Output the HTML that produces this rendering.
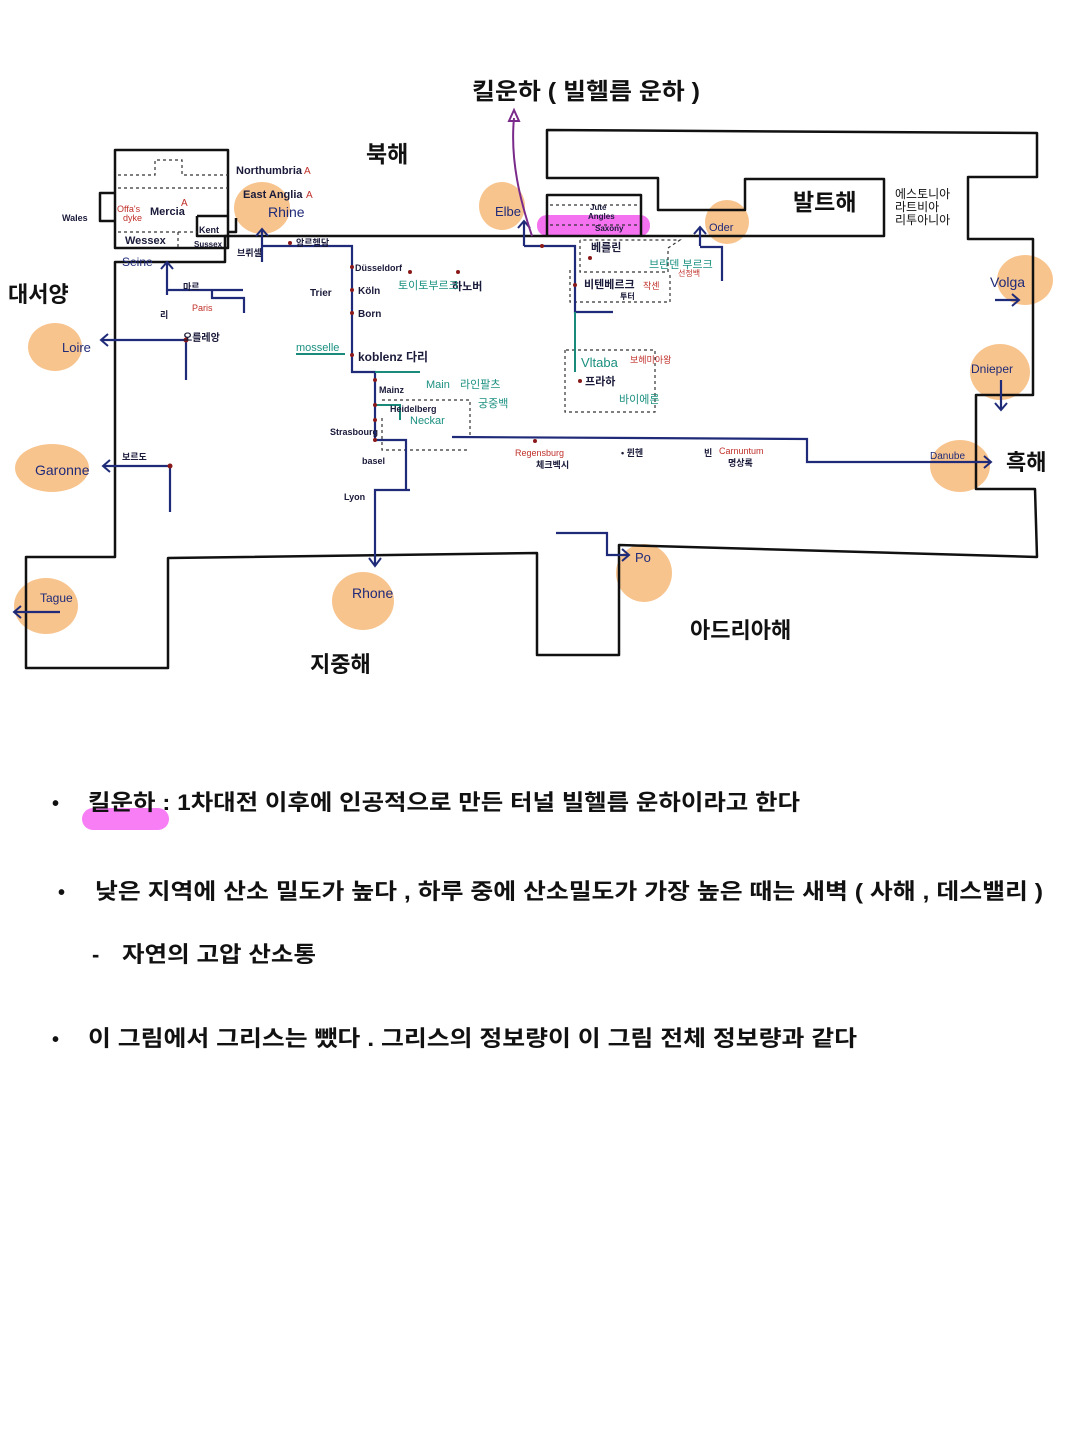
<!DOCTYPE html>
<html><head><meta charset="utf-8"><style>
html,body{margin:0;padding:0;background:#fff;}
svg{display:block;}
text{font-family:"Liberation Sans","Noto Sans CJK KR",sans-serif;}
</style></head><body>
<svg width="1080" height="1440" viewBox="0 0 1080 1440" xmlns="http://www.w3.org/2000/svg">
<g fill="#f8c48e">
<ellipse cx="262" cy="208" rx="28" ry="26"/>
<ellipse cx="502" cy="206" rx="23" ry="24"/>
<ellipse cx="727" cy="222" rx="22" ry="22"/>
<ellipse cx="1025" cy="280" rx="28" ry="25"/>
<ellipse cx="1000" cy="372" rx="30" ry="28"/>
<ellipse cx="960" cy="466" rx="30" ry="26"/>
<ellipse cx="55" cy="347" rx="27" ry="24"/>
<ellipse cx="52" cy="468" rx="37" ry="24"/>
<ellipse cx="46" cy="606" rx="32" ry="28"/>
<ellipse cx="363" cy="601" rx="31" ry="29"/>
<ellipse cx="644" cy="573" rx="28" ry="29"/>
</g>
<rect x="537" y="215" width="113" height="21" rx="10" fill="#f472f0"/>
<rect x="82" y="808" width="87" height="22" rx="11" fill="#f77ef5"/>
<g fill="none" stroke="#111" stroke-width="2.5" stroke-linejoin="round">
<path d="M225,236 L225,262 L115,262 L115,557 L26,557 L26,668 L168,668 L168,558 L537,553 L537,655 L619,655 L619,545 L1037,557 L1035,489 L976,489 L976,395 L1033,395 L1033,239 L968,239 L968,177 L1037,177 L1037,133 L547,130 L547,178 L658,178 L658,210 L745,210 L745,179 L884,179 L884,236 Z"/>
<path d="M547,236 L547,195 L641,195 L641,236"/>
<rect x="115" y="150" width="113" height="98"/>
<path d="M115,193 L100,193 L100,221 L115,221"/>
<path d="M228,232 L236,232 L236,218"/>
<path d="M197,216 L228,216 M197,216 L197,236 L228,236"/>
</g>
<g fill="none" stroke="#333" stroke-width="1.2" stroke-dasharray="3,3">
<path d="M118,175 L155,175 L155,160 L182,160 L182,175 L228,175"/>
<path d="M118,188 L228,188"/>
<path d="M118,232 L197,232 M178,232 L178,248"/>
<path d="M550,205 L640,205 M550,225 L640,225"/>
<path d="M580,240 L580,272 L668,272 L668,248 L680,240 L580,240"/>
<path d="M570,270 L570,302 L670,302 L670,272"/>
<path d="M565,350 L565,412 L655,412 L655,350 L565,350"/>
<path d="M382,400 L470,400 L470,437 M382,418 L382,450 L470,450"/>
</g>
<g fill="none" stroke="#1f2a78" stroke-width="2.2">
<path d="M262,262 L262,230 M262,246 L352,246 L352,372 L375,372 L375,440 L406,440 L406,490 L375,490 L375,565 M375,490 L410,490"/>
<path d="M167,295 L167,263 M167,290 L243,290 M212,290 L212,298 L244,298 L244,313"/>
<path d="M186,340 L102,340 M186,340 L186,380"/>
<path d="M170,466 L104,466 M170,466 L170,512"/>
<path d="M60,612 L15,612"/>
<path d="M524,246 L524,222 M524,246 L575,246 L575,312 L613,312"/>
<path d="M700,246 L700,228 M700,247 L722,247 L722,281"/>
<path d="M452,437 L807,439 L807,462 L990,462"/>
<path d="M556,533 L607,533 L607,555 L628,555"/>
<path d="M995,300 L1018,300"/>
<path d="M1001,380 L1001,410"/>
</g>
<g fill="none" stroke="#1f2a78" stroke-width="2">
<path d="M256,236 L262,229 L268,236"/><path d="M161,269 L167,262 L173,269"/>
<path d="M108,334 L101,340 L108,346"/><path d="M110,460 L103,466 L110,472"/>
<path d="M21,606 L14,612 L21,618"/><path d="M369,558 L375,566 L381,558"/>
<path d="M518,228 L524,221 L530,228"/><path d="M694,234 L700,227 L706,234"/>
<path d="M984,456 L991,462 L984,468"/><path d="M622,549 L629,555 L622,561"/>
<path d="M1012,294 L1019,300 L1012,306"/><path d="M995,403 L1001,410 L1007,403"/>
</g>
<g fill="none" stroke="#1a8a7a" stroke-width="2">
<path d="M575,312 L575,372"/><path d="M375,372 L420,372"/>
<path d="M375,405 L400,405 L400,420"/><path d="M296,354 L345,354"/>
</g>
<path d="M532,236 C520,200 510,160 514,118" fill="none" stroke="#7a2a8a" stroke-width="2"/>
<path d="M509,121 L514,110 L519,121 Z" fill="none" stroke="#7a2a8a" stroke-width="2"/>
<g fill="#8a1a1a">
<circle cx="290" cy="243" r="2"/><circle cx="352" cy="267" r="2"/><circle cx="352" cy="290" r="2"/><circle cx="352" cy="313" r="2"/><circle cx="352" cy="355" r="2"/>
<circle cx="186" cy="340" r="2.5"/><circle cx="170" cy="466" r="2.5"/><circle cx="375" cy="380" r="2"/><circle cx="375" cy="405" r="2"/><circle cx="375" cy="420" r="2"/><circle cx="375" cy="440" r="2"/>
<circle cx="542" cy="246" r="2"/><circle cx="590" cy="258" r="2"/><circle cx="575" cy="285" r="2"/><circle cx="580" cy="381" r="2"/><circle cx="535" cy="441" r="2"/><circle cx="410" cy="272" r="2"/><circle cx="458" cy="272" r="2"/>
</g>
<g font-weight="bold" fill="#111">
<text x="472" y="99" font-size="23" textLength="228" lengthAdjust="spacingAndGlyphs">킬운하 ( 빌헬름 운하 )</text>
<text x="366" y="162" font-size="23">북해</text>
<text x="793" y="210" font-size="23">발트해</text>
<text x="8" y="302" font-size="22">대서양</text>
<text x="1006" y="470" font-size="22">흑해</text>
<text x="310" y="672" font-size="22">지중해</text>
<text x="690" y="638" font-size="22">아드리아해</text>
</g>
<g fill="#111" font-size="12">
<text x="895" y="198">에스토니아</text><text x="895" y="211">라트비아</text><text x="895" y="224">리투아니아</text>
</g>
<g fill="#1a1a3a" font-size="11" font-weight="bold">
<text x="236" y="174">Northumbria</text><text x="243" y="198">East Anglia</text>
<text x="150" y="215">Mercia</text><text x="125" y="244">Wessex</text><text x="62" y="221" font-size="9">Wales</text>
<text x="199" y="233" font-size="9">Kent</text><text x="194" y="247" font-size="8">Sussex</text>
<text x="355" y="271" font-size="9">Düsseldorf</text><text x="310" y="296" font-size="10">Trier</text>
<text x="358" y="294" font-size="10">Köln</text><text x="358" y="317" font-size="10">Born</text>
<text x="358" y="361" font-size="12">koblenz 다리</text><text x="379" y="393" font-size="9">Mainz</text>
<text x="390" y="412" font-size="9">Heidelberg</text><text x="330" y="435" font-size="9">Strasbourg</text>
<text x="362" y="464" font-size="9">basel</text><text x="344" y="500" font-size="9">Lyon</text>
<text x="183" y="290" font-size="9">마르</text><text x="160" y="318" font-size="9">리</text><text x="183" y="341" font-size="10">오를레앙</text>
<text x="122" y="460" font-size="9">보르도</text><text x="237" y="256" font-size="9">브뤼셀</text><text x="296" y="246" font-size="9">암르헴담</text>
<text x="452" y="290" font-size="11">하노버</text><text x="591" y="251" font-size="11">베를린</text>
<text x="584" y="288" font-size="11">비텐베르크</text><text x="620" y="299" font-size="8">투터</text>
<text x="585" y="385" font-size="11">프라하</text><text x="621" y="456" font-size="9">• 뮌헨</text>
<text x="704" y="456" font-size="9">빈</text><text x="728" y="466" font-size="9">명상록</text><text x="536" y="468" font-size="9">체크벡시</text>
<text x="590" y="210" font-size="8">Jute</text><text x="588" y="219" font-size="8">Angles</text><text x="595" y="231" font-size="8">Saxony</text>
</g>
<g fill="#1f2a78" font-size="14">
<text x="268" y="217">Rhine</text><text x="122" y="266" font-size="12">Seine</text>
<text x="62" y="352" font-size="13">Loire</text><text x="35" y="475" font-size="14">Garonne</text>
<text x="40" y="602" font-size="12">Tague</text><text x="352" y="598">Rhone</text>
<text x="495" y="216" font-size="13">Elbe</text><text x="709" y="231" font-size="11">Oder</text>
<text x="990" y="287" font-size="14">Volga</text><text x="971" y="373" font-size="12">Dnieper</text>
<text x="930" y="459" font-size="10">Danube</text><text x="635" y="562" font-size="13">Po</text>
</g>
<g fill="#1a9080" font-size="11">
<text x="296" y="351">mosselle</text><text x="426" y="388">Main</text><text x="460" y="388">라인팔츠</text>
<text x="478" y="407">궁중백</text><text x="410" y="424">Neckar</text><text x="398" y="289">토이토부르크</text>
<text x="581" y="367" font-size="13">Vltaba</text><text x="619" y="403">바이에른</text><text x="649" y="268">브란덴 부르크</text>
</g>
<g fill="#c0302a" font-size="9">
<text x="192" y="311">Paris</text><text x="117" y="212">Offa's</text><text x="123" y="221">dyke</text>
<text x="515" y="456">Regensburg</text><text x="719" y="454">Carnuntum</text><text x="643" y="289">작센</text>
<text x="630" y="363">보헤미아왕</text><text x="678" y="276" font-size="8">선정백</text>
<text x="304" y="174" font-size="10">A</text><text x="306" y="198" font-size="10">A</text><text x="181" y="206" font-size="10">A</text>
</g>
<g fill="#111" font-weight="bold">
<text x="52" y="810" font-size="20">•</text>
<text x="88" y="810" font-size="22" textLength="712" lengthAdjust="spacingAndGlyphs">킬운하 : 1차대전 이후에 인공적으로 만든 터널 빌헬름 운하이라고 한다</text>
<text x="58" y="899" font-size="20">•</text>
<text x="95" y="899" font-size="22" textLength="948" lengthAdjust="spacingAndGlyphs">낮은 지역에 산소 밀도가 높다 , 하루 중에 산소밀도가 가장 높은 때는 새벽 ( 사해 , 데스밸리 )</text>
<text x="92" y="962" font-size="22">-</text>
<text x="122" y="962" font-size="22" textLength="194" lengthAdjust="spacingAndGlyphs">자연의 고압 산소통</text>
<text x="52" y="1046" font-size="20">•</text>
<text x="88" y="1046" font-size="22" textLength="769" lengthAdjust="spacingAndGlyphs">이 그림에서 그리스는 뺐다 .  그리스의 정보량이 이 그림 전체 정보량과 같다</text>
</g>
</svg>
</body></html>
